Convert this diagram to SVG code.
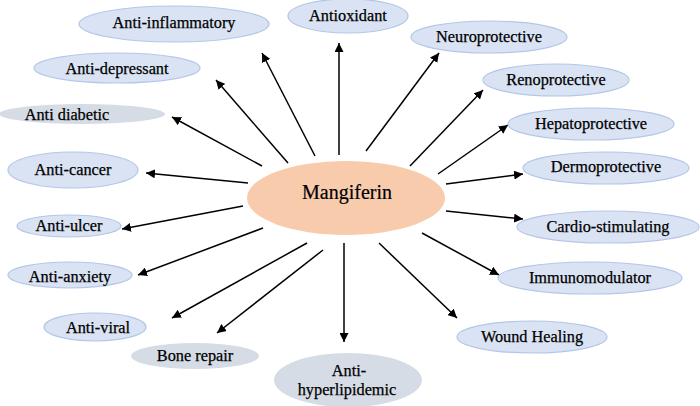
<svg xmlns="http://www.w3.org/2000/svg" width="700" height="406" viewBox="0 0 700 406">
<defs>
<marker id="ah" viewBox="0 0 10 10" refX="10" refY="5" markerWidth="9" markerHeight="9" markerUnits="userSpaceOnUse" orient="auto">
<path d="M0,0 L10,5 L0,10 z" fill="#000"/>
</marker>
<style>
.n{fill:#DAE3F3;stroke:#B4C7E7;stroke-width:1.2}
.g{fill:#D6DCE5;stroke:none}
.c{fill:#F8CBAD;stroke:none}
text{font-family:"Liberation Serif","DejaVu Serif",serif;font-size:16.3px;fill:#000;stroke:#000;stroke-width:0.25;text-anchor:middle;dominant-baseline:central}
.big{font-size:20px;stroke-width:0.2}
.conn line{stroke:#000;stroke-width:1.5;marker-end:url(#ah)}
</style>
</defs>
<rect width="700" height="406" fill="#fff"/>
<g class="conn" id="connectors">
<line x1="315" y1="156" x2="262" y2="53"/>
<line x1="288" y1="163" x2="216" y2="80"/>
<line x1="262" y1="166" x2="172" y2="117"/>
<line x1="248" y1="183" x2="146" y2="173"/>
<line x1="339" y1="155" x2="339" y2="43"/>
<line x1="366" y1="151" x2="439" y2="53"/>
<line x1="410" y1="166" x2="483" y2="90"/>
<line x1="438" y1="174" x2="508" y2="125"/>
<line x1="446" y1="184" x2="523" y2="174"/>
<line x1="243" y1="206" x2="122" y2="229"/>
<line x1="263" y1="228" x2="138" y2="275"/>
<line x1="307" y1="243" x2="172" y2="318"/>
<line x1="323" y1="250" x2="217" y2="333"/>
<line x1="344" y1="243" x2="344" y2="342"/>
<line x1="446" y1="211" x2="523" y2="219"/>
<line x1="422" y1="233" x2="499" y2="275"/>
<line x1="379" y1="243" x2="457" y2="318"/>
</g>
<g id="mangiferin"><ellipse class="c" cx="346" cy="198" rx="99" ry="37"/><text class="big" x="347" y="192">Mangiferin</text></g>
<g id="anti-inflammatory"><ellipse class="n" cx="174" cy="24" rx="95" ry="18"/><text x="174" y="22">Anti-inflammatory</text></g>
<g id="anti-depressant"><ellipse class="n" cx="117" cy="68" rx="83" ry="15"/><text x="117" y="68">Anti-depressant</text></g>
<g id="anti-diabetic"><ellipse class="g" cx="82" cy="114" rx="83" ry="10"/><text x="67" y="114">Anti diabetic</text></g>
<g id="anti-cancer"><ellipse class="n" cx="73" cy="170" rx="65" ry="18"/><text x="73" y="169">Anti-cancer</text></g>
<g id="antioxidant"><ellipse class="n" cx="348" cy="16" rx="60" ry="17"/><text x="348" y="15">Antioxidant</text></g>
<g id="neuroprotective"><ellipse class="n" cx="489" cy="37" rx="78" ry="16"/><text x="489" y="36">Neuroprotective</text></g>
<g id="renoprotective"><ellipse class="n" cx="556" cy="80" rx="73" ry="16"/><text x="556" y="79">Renoprotective</text></g>
<g id="hepatoprotective"><ellipse class="n" cx="591" cy="124" rx="83" ry="16"/><text x="591" y="123">Hepatoprotective</text></g>
<g id="dermoprotective"><ellipse class="n" cx="606" cy="168" rx="83" ry="16"/><text x="606" y="166">Dermoprotective</text></g>
<g id="anti-ulcer"><ellipse class="n" cx="69" cy="226" rx="52" ry="11"/><text x="69" y="225">Anti-ulcer</text></g>
<g id="anti-anxiety"><ellipse class="n" cx="70" cy="275" rx="62" ry="13"/><text x="70" y="276">Anti-anxiety</text></g>
<g id="anti-viral"><ellipse class="n" cx="95" cy="327" rx="51" ry="14"/><text x="98" y="327">Anti-viral</text></g>
<g id="bone-repair"><ellipse class="g" cx="195" cy="356" rx="64" ry="13"/><text x="195" y="355">Bone repair</text></g>
<g id="anti-hyperlipidemic"><ellipse class="g" cx="348" cy="380" rx="74" ry="27"/><text x="349" y="370">Anti-</text><text x="347" y="389">hyperlipidemic</text></g>
<g id="cardio-stimulating"><ellipse class="n" cx="608" cy="227" rx="91" ry="16"/><text x="608" y="226">Cardio-stimulating</text></g>
<g id="immunomodulator"><ellipse class="n" cx="590" cy="278" rx="92" ry="16"/><text x="590" y="277">Immunomodulator</text></g>
<g id="wound-healing"><ellipse class="n" cx="532" cy="337" rx="75" ry="16"/><text x="532" y="336">Wound Healing</text></g>
</svg>
